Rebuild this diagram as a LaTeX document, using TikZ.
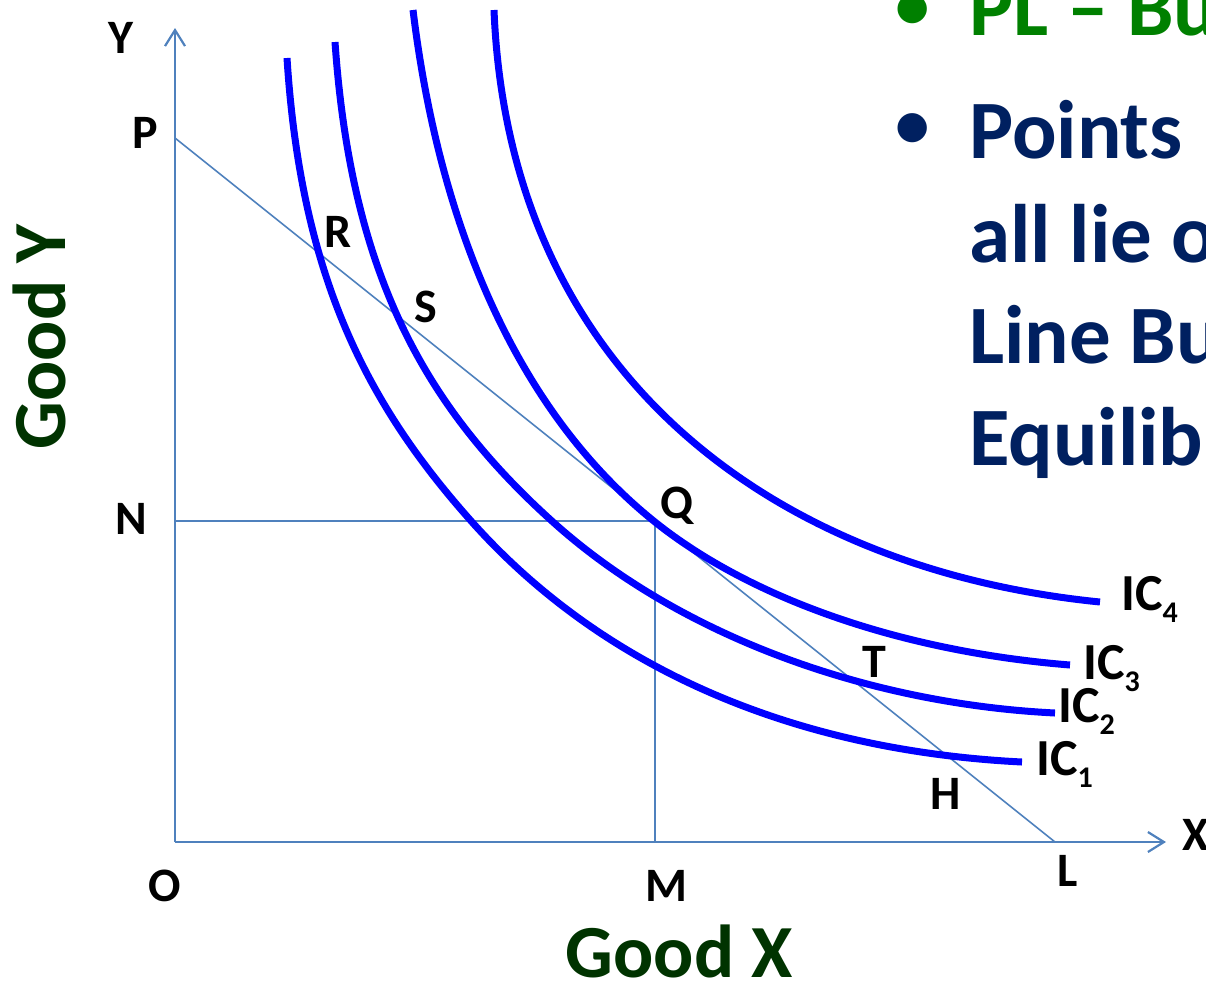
\documentclass[tikz,border=0pt]{standalone}
\usepackage{fontspec}
\setmainfont{Carlito}
\usetikzlibrary{arrows.meta}
\definecolor{icblue}{HTML}{0000FF}
\definecolor{axisblue}{HTML}{4F81BD}
\definecolor{hgreen}{HTML}{008000}
\definecolor{tblue}{HTML}{002060}
\definecolor{ggreen}{HTML}{003300}
\newcommand\ICsub[1]{IC\raisebox{-12pt}{\fontsize{30}{30}\selectfont #1}}
\begin{document}
\begin{tikzpicture}[x=1pt,y=-1pt,
  ic/.style={icblue, line width=7pt},
  axisline/.style={axisblue, line width=2.2pt, -{Straight Barb[length=16pt,width=20pt]}},
  guide/.style={axisblue, line width=1.6pt},
  lbl/.style={inner sep=0pt, anchor=base, font=\fontsize{48}{48}\selectfont\bfseries},
  iclbl/.style={inner sep=0pt, anchor=base west, font=\fontsize{52}{52}\selectfont\bfseries},
  axtitle/.style={inner sep=0pt, anchor=base, text depth=0pt, text=ggreen, font=\fontsize{75}{75}\selectfont\bfseries},
  bul/.style={inner sep=0pt, anchor=base west, font=\fontsize{83}{83}\selectfont\bfseries},
  bulmark/.style={inner sep=0pt, anchor=base, font=\fontsize{69}{69}\selectfont\bfseries}
]
\useasboundingbox (0,0) rectangle (1206,980);
\clip (0,0) rectangle (1206,980);

% key points
\coordinate (O) at (175,842);
\coordinate (Ytop) at (175,28);
\coordinate (Xend) at (1166,842);
\coordinate (P) at (175,138);
\coordinate (L) at (1055,842);
\coordinate (N) at (175,521);
\coordinate (Q) at (655,521);
\coordinate (M) at (655,842);

% axes
\draw[axisline] (O) -- (Ytop);
\draw[axisline] (O) -- (Xend);
% budget line and guides
\draw[guide] (P) -- (L);
\draw[guide] (N) -- (Q);
\draw[guide] (Q) -- (M);

% indifference curves
\draw[ic] (287,58) .. controls (301,278) and (368,405.5) .. (472,522)
                   .. controls (602,667.6) and (792,750.5) .. (1022,762);
\draw[ic] (335,42) .. controls (351,272) and (423,405) .. (553,522)
                   .. controls (678,634.5) and (865,703.5) .. (1055,713);
\draw[ic] (413,10) .. controls (441,240) and (525,418) .. (655,522)
                   .. controls (750,598) and (900,651.4) .. (1070,665);
\draw[ic] (494,10) .. controls (509,380) and (780,570) .. (1100,602);

% point labels
\node[lbl] (lY) at (121,53) {Y};
\node[lbl] (lP) at (145,148) {P};
\node[lbl] (lR) at (338,247) {R};
\node[lbl] (lS) at (426,322) {S};
\node[lbl] (lN) at (131,534) {N};
\node[lbl] (lQ) at (677,518) {Q};
\node[lbl] (lT) at (874,677) {T};
\node[lbl] (lH) at (946,809) {H};
\node[lbl] (lO) at (165,901) {O};
\node[lbl] (lM) at (666,901) {M};
\node[lbl] (lL) at (1068,886) {L};
\node[lbl, anchor=base west] (lX) at (1182,850) {X};

% IC labels
\node[iclbl] (ic4) at (1121,610) {\ICsub{4}};
\node[iclbl] (ic3) at (1083,679) {\ICsub{3}};
\node[iclbl] (ic2) at (1058,722) {\ICsub{2}};
\node[iclbl] (ic1) at (1036,775) {\ICsub{1}};

% axis titles
\node[axtitle] (gx) at (679,977) {Good X};
\node[axtitle, rotate=90] (gy) at (65,337) {Good Y};

% bullet text (cut off at right edge)
\node[bulmark, text=hgreen] (b1) at (913,28) {•};
\node[bul, text=hgreen] (t1) at (969,35) {PL – Bu};
\node[bulmark, text=tblue] (b2) at (913,147) {•};
\node[bul, text=tblue] (t2) at (969,158) {Points};
\node[bul, text=tblue] (t3) at (969,262) {all lie o};
\node[bul, text=tblue] (t4) at (969,363) {Line Bu};
\node[bul, text=tblue] (t5) at (969,465) {Equilib};
\end{tikzpicture}
\end{document}
